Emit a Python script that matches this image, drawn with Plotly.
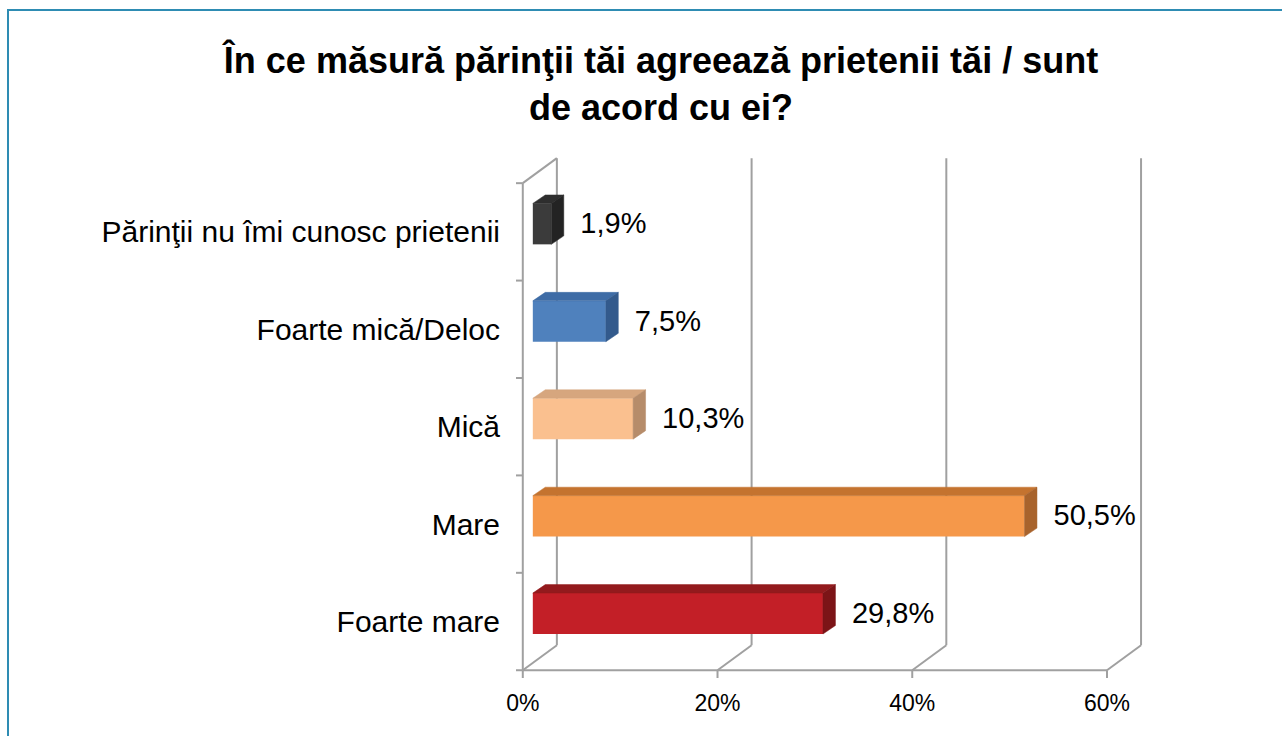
import plotly.graph_objects as go

# ---- data (bottom to top as drawn) ----
categories = ["Foarte mare", "Mare", "Mică", "Foarte mică/Deloc", "Părinţii nu îmi cunosc prietenii"]
values = [29.8, 50.5, 10.3, 7.5, 1.9]
front_colors = ["#c31f27", "#f5984a", "#fac08f", "#4f81bd", "#3b3b3b"]
top_colors = ["#931a1d", "#c4732f", "#d6a67e", "#3e6ca6", "#2e2e2e"]
side_colors = ["#7c1417", "#a8632c", "#b68c6a", "#335a8c", "#232323"]
x_ticks = [0, 20, 40, 60]
x_tick_labels = ["0%", "20%", "40%", "60%"]
title_text = "<b>În ce măsură părinţii tăi agreează prietenii tăi / sunt<br>de acord cu ei?</b>"

# ---- 3D geometry (in axis units) ----
DX, DY = 3.5, 0.257        # full depth of the chart box
OX, OY = 1.03, 0.082       # bar front face offset from the front plane
BDX, BDY = 1.28, 0.087     # bar depth
BAR_H = 0.42
N = len(categories)
centers = [i + 0.5 for i in range(N)]

GRID = "#a0a0a0"
FONT = "Liberation Sans, Arial, sans-serif"

fig = go.Figure()

# front faces of the bars
fig.add_trace(go.Bar(
    orientation="h",
    x=values,
    y=[c + OY for c in centers],
    base=OX,
    width=BAR_H,
    marker=dict(color=front_colors, line=dict(width=0)),
    hoverinfo="skip",
    showlegend=False,
))

# top and side faces
for c, v, tc, sc in zip(centers, values, top_colors, side_colors):
    yb = c + OY - BAR_H / 2
    yt = c + OY + BAR_H / 2
    x0, x1 = OX, OX + v
    fig.add_trace(go.Scatter(
        x=[x0, x1, x1 + BDX, x0 + BDX, x0],
        y=[yt, yt, yt + BDY, yt + BDY, yt],
        fill="toself", fillcolor=tc, mode="lines", line=dict(width=0.5, color=tc),
        hoverinfo="skip", showlegend=False,
    ))
    fig.add_trace(go.Scatter(
        x=[x1, x1, x1 + BDX, x1 + BDX, x1],
        y=[yb, yt, yt + BDY, yb + BDY, yb],
        fill="toself", fillcolor=sc, mode="lines", line=dict(width=0.5, color=sc),
        hoverinfo="skip", showlegend=False,
    ))

# value labels
fig.add_trace(go.Scatter(
    x=[OX + v + BDX + 1.7 for v in values],
    y=[c + OY - 0.02 for c in centers],
    mode="text",
    text=[f"{v:.1f}%".replace(".", ",") for v in values],
    textposition="middle right",
    textfont=dict(family=FONT, size=29, color="#000000"),
    hoverinfo="skip", showlegend=False, cliponaxis=False,
))

# ---- frame / gridlines (computed from tick values) ----
shapes = []
def seg(x0, y0, x1, y1, color=GRID, w=2):
    shapes.append(dict(type="line", xref="x", yref="y", x0=x0, y0=y0, x1=x1, y1=y1,
                       line=dict(color=color, width=w), layer="below"))

for t in x_ticks:
    seg(t, 0, t + DX, DY)                 # floor diagonal
    seg(t + DX, DY, t + DX, N + DY)       # back wall gridline
    seg(t, 0, t, -0.08)                   # tick stub
seg(x_ticks[0], 0, x_ticks[-1], 0)        # front x axis
seg(0, 0, 0, N)                           # front y axis
for k in range(N + 1):
    seg(-0.7, k, 0, k)                    # category boundary ticks
seg(0, N, DX, N + DY)                     # left wall top edge

# outer border (top and left), in paper coords
L, R, T, B, W, H = 515, 139, 152, 57, 1282, 736
pw, ph = W - L - R, H - T - B
def px(x): return (x - L) / pw
def py(y): return (H - B - y) / ph
BORDER = "#2e8cb3"
shapes.append(dict(type="line", xref="paper", yref="paper", x0=px(7), y0=py(10), x1=px(1282), y1=py(10),
                   line=dict(color=BORDER, width=2)))
shapes.append(dict(type="line", xref="paper", yref="paper", x0=px(8), y0=py(10), x1=px(8), y1=py(736),
                   line=dict(color=BORDER, width=2)))

fig.update_layout(
    width=W, height=H,
    margin=dict(l=L, r=R, t=T, b=B),
    paper_bgcolor="white", plot_bgcolor="white",
    shapes=shapes,
    showlegend=False,
    title=dict(
        text=title_text,
        font=dict(family=FONT, size=36, color="#000000"),
        x=661 / W, xref="container", xanchor="center",
        y=1 - 73 / H, yref="container", yanchor="top",
    ),
    xaxis=dict(
        range=[-0.8, 63.7],
        tickvals=x_ticks, ticktext=x_tick_labels,
        ticks="", showgrid=False, zeroline=False, showline=False,
        tickfont=dict(family=FONT, size=23, color="#000000"),
        ticklabelstandoff=8,
    ),
    yaxis=dict(
        range=[-0.09, 5.32],
        tickvals=centers, ticktext=categories,
        ticks="", showgrid=False, zeroline=False, showline=False,
        tickfont=dict(family=FONT, size=30, color="#000000"),
        ticklabelstandoff=14,
    ),
)

fig.write_html(
    "out.html",
    config={"displayModeBar": False},
    post_script="document.body.style.margin='0';document.body.style.overflow='hidden';",
)
